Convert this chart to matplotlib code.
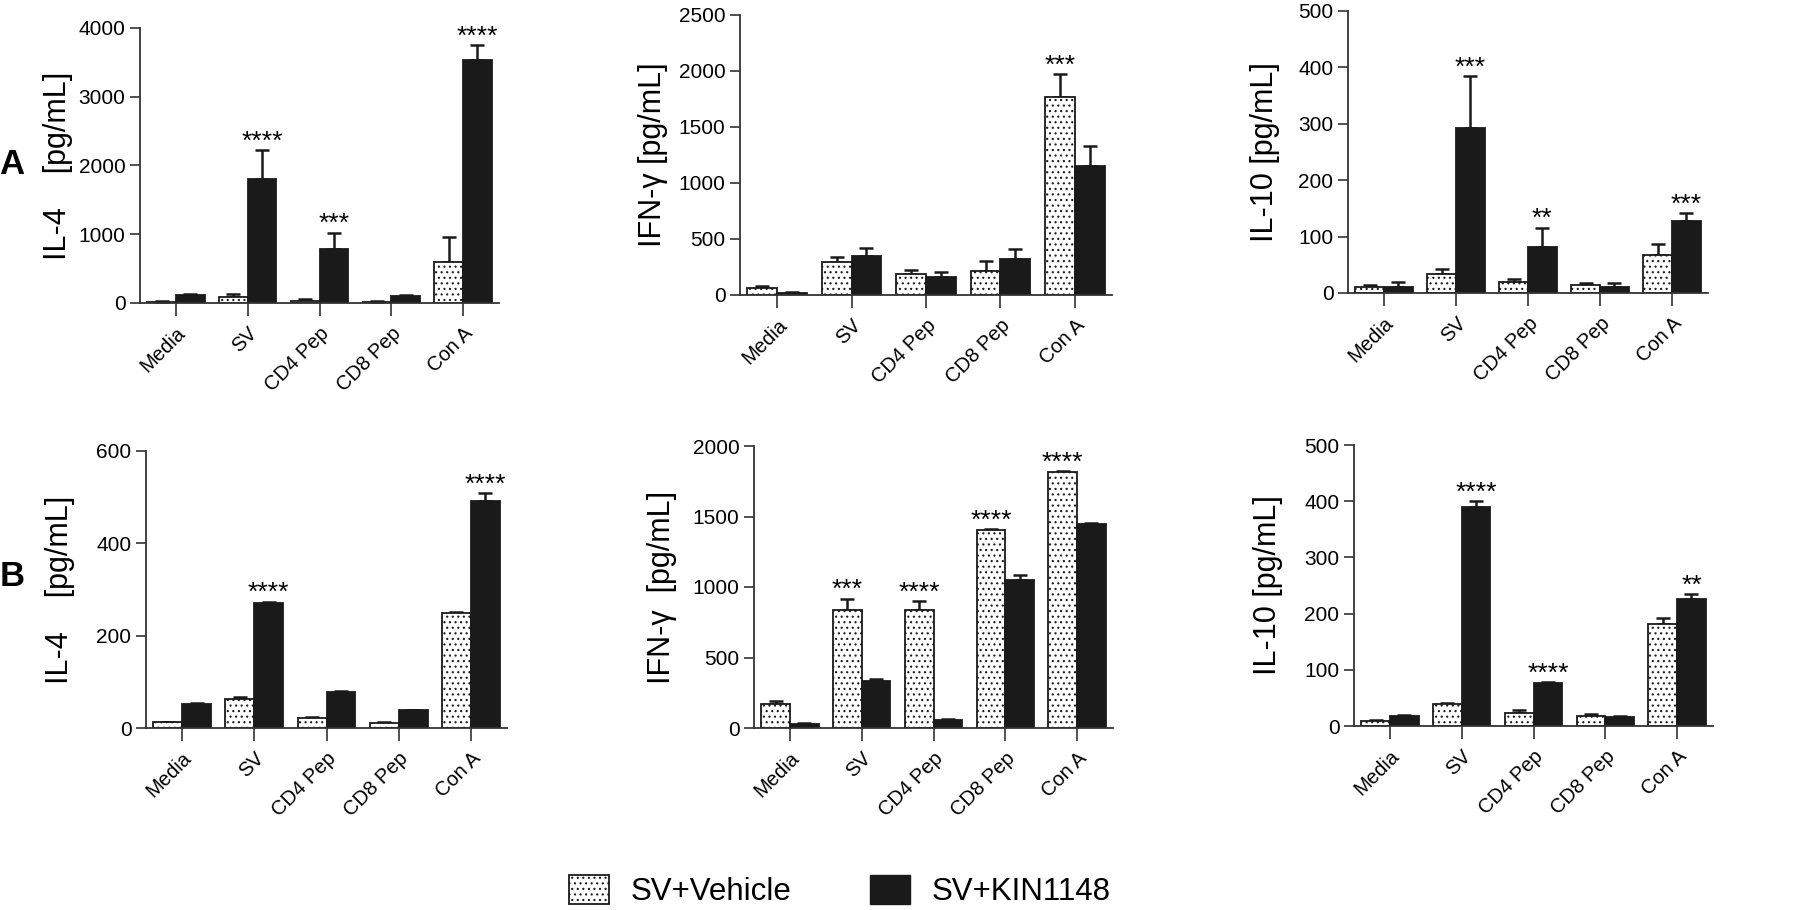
import numpy as np
import matplotlib
matplotlib.use('Agg')
import matplotlib.pyplot as plt
from matplotlib.patches import Patch

plt.rcParams['font.family'] = ['Liberation Sans', 'DejaVu Sans']
plt.rcParams['hatch.linewidth'] = 0.8
plt.rcParams['hatch.color'] = '#444444'

# Data (mean and upper SEM)
categories = ['Media', 'SV', 'CD4 Pep', 'CD8 Pep', 'Con A']

a_il4_veh = [20, 83, 34, 10, 603]
a_il4_veh_err = [8, 53, 29, 12, 354]
a_il4_kin = [112, 1808, 782, 97, 3528]
a_il4_kin_err = [23, 418, 243, 23, 219]
a_il4_veh_sig = ['', '', '', '', '']
a_il4_kin_sig = ['', '****', '***', '', '****']

a_ifn_veh = [60, 292, 185, 218, 1770]
a_ifn_veh_err = [20, 45, 35, 83, 202]
a_ifn_kin = [21, 349, 164, 325, 1156]
a_ifn_kin_err = [9, 74, 38, 86, 170]
a_ifn_veh_sig = ['', '', '', '', '***']
a_ifn_kin_sig = ['', '', '', '', '']

a_il10_veh = [10, 33, 20, 15, 67]
a_il10_veh_err = [3.6, 9, 5, 3, 19]
a_il10_kin = [10.6, 292.6, 82, 11, 128]
a_il10_kin_err = [8.4, 92, 34, 7, 13]
a_il10_veh_sig = ['', '', '', '', '']
a_il10_kin_sig = ['', '***', '**', '', '***']

b_il4_veh = [12, 62, 21, 10, 249]
b_il4_veh_err = [2, 5, 3, 2, 2]
b_il4_kin = [51, 270, 77, 38, 492]
b_il4_kin_err = [4, 4, 3, 2, 17]
b_il4_veh_sig = ['', '', '', '', '']
b_il4_kin_sig = ['', '****', '', '', '****']

b_ifn_veh = [170, 837, 837, 1405, 1818]
b_ifn_veh_err = [19, 80, 64, 7, 5]
b_ifn_kin = [31, 335, 54, 1052, 1450]
b_ifn_kin_err = [4, 12, 10, 30, 7]
b_ifn_veh_sig = ['', '***', '****', '****', '****']
b_ifn_kin_sig = ['', '', '', '', '']

b_il10_veh = [8.3, 38.6, 24, 17, 182]
b_il10_veh_err = [1.7, 3, 4.5, 4, 11]
b_il10_kin = [17, 389, 77, 16.6, 226]
b_il10_kin_err = [2, 11, 1, 0.4, 8]
b_il10_veh_sig = ['', '', '', '', '']
b_il10_kin_sig = ['', '****', '****', '', '**']

W, H = 1800, 910
fig = plt.figure(figsize=(18, 9.1), dpi=100)

# (left, bottom, right, top) in pixels, ylabel, yticks, data, label x
panels = [
    ((140, 303, 499, 28), 'IL-4    [pg/mL]', np.arange(0, 4001, 1000),
     (a_il4_veh, a_il4_veh_err, a_il4_kin, a_il4_kin_err, a_il4_veh_sig, a_il4_kin_sig), 58),
    ((740, 295, 1112, 15), 'IFN-γ [pg/mL]', np.arange(0, 2501, 500),
     (a_ifn_veh, a_ifn_veh_err, a_ifn_kin, a_ifn_kin_err, a_ifn_veh_sig, a_ifn_kin_sig), 653),
    ((1348, 293, 1708, 11), 'IL-10 [pg/mL]', np.arange(0, 501, 100),
     (a_il10_veh, a_il10_veh_err, a_il10_kin, a_il10_kin_err, a_il10_veh_sig, a_il10_kin_sig), 1265),
    ((146, 728, 507, 451), 'IL-4    [pg/mL]', np.arange(0, 601, 200),
     (b_il4_veh, b_il4_veh_err, b_il4_kin, b_il4_kin_err, b_il4_veh_sig, b_il4_kin_sig), 60),
    ((754, 728, 1113, 446), 'IFN-γ  [pg/mL]', np.arange(0, 2001, 500),
     (b_ifn_veh, b_ifn_veh_err, b_ifn_kin, b_ifn_kin_err, b_ifn_veh_sig, b_ifn_kin_sig), 662),
    ((1354, 726, 1713, 445), 'IL-10 [pg/mL]', np.arange(0, 501, 100),
     (b_il10_veh, b_il10_veh_err, b_il10_kin, b_il10_kin_err, b_il10_veh_sig, b_il10_kin_sig), 1268),
]

x = np.arange(len(categories))
bw = 0.4
for (l, b, r, t), ylab, yt, (veh, veh_err, kin, kin_err, veh_sig, kin_sig), lx in panels:
    ax = fig.add_axes([l / W, 1 - b / H, (r - l) / W, (b - t) / H])
    ax.bar(x - bw / 2, veh, bw, color='white', edgecolor='#1a1a1a', hatch='...', linewidth=1.3, zorder=2)
    ax.bar(x + bw / 2, kin, bw, color='#1a1a1a', edgecolor='#1a1a1a', linewidth=1.3, zorder=2)
    ax.errorbar(x - bw / 2, veh, yerr=[np.zeros(len(veh)), veh_err], fmt='none', ecolor='#1a1a1a',
                elinewidth=1.8, capsize=5, capthick=1.8, zorder=1)
    ax.errorbar(x + bw / 2, kin, yerr=[np.zeros(len(kin)), kin_err], fmt='none', ecolor='#1a1a1a',
                elinewidth=1.8, capsize=5, capthick=1.8, zorder=1)
    for i in range(len(x)):
        if veh_sig[i]:
            ax.annotate(veh_sig[i], (x[i] - bw / 2, veh[i] + veh_err[i]), xytext=(0, -2.5),
                        textcoords='offset points', ha='center', va='bottom', fontsize=19)
        if kin_sig[i]:
            ax.annotate(kin_sig[i], (x[i] + bw / 2, kin[i] + kin_err[i]), xytext=(0, -2.5),
                        textcoords='offset points', ha='center', va='bottom', fontsize=19)
    ax.set_xlim(-0.5, len(x) - 0.5)
    ax.set_ylim(0, yt[-1])
    ax.set_yticks(yt)
    ax.set_xticks(x)
    ax.set_xticklabels(categories, rotation=45, ha='right', rotation_mode='anchor', fontsize=14.5)
    ax.tick_params(axis='y', labelsize=15, length=7, width=1.2, color='#333333')
    ax.tick_params(axis='x', length=9, width=1.2, color='#333333', pad=6)
    for s in ['top', 'right']:
        ax.spines[s].set_visible(False)
    for s in ['left', 'bottom']:
        ax.spines[s].set_linewidth(1.3)
        ax.spines[s].set_color('#333333')
    ax.set_ylabel(ylab, fontsize=22)
    ax.yaxis.label.set_va('center')
    ax.yaxis.set_label_coords((lx - l) / (r - l), 0.5)

fig.text(12 / W, 1 - 164 / H, 'A', fontsize=25, fontweight='bold', ha='center', va='center')
fig.text(12 / W, 1 - 577 / H, 'B', fontsize=25, fontweight='bold', ha='center', va='center')

handles = [Patch(facecolor='white', edgecolor='#1a1a1a', hatch='...', linewidth=1.3),
           Patch(facecolor='#1a1a1a', edgecolor='#1a1a1a')]
fig.legend(handles, ['SV+Vehicle', 'SV+KIN1148'], loc='center', ncol=2, frameon=False,
           bbox_to_anchor=(840 / W, 1 - 891 / H), fontsize=22.5, handlelength=1.28,
           handleheight=1.06, handletextpad=0.7, columnspacing=2.5)

fig.savefig('out.png', dpi=100)
